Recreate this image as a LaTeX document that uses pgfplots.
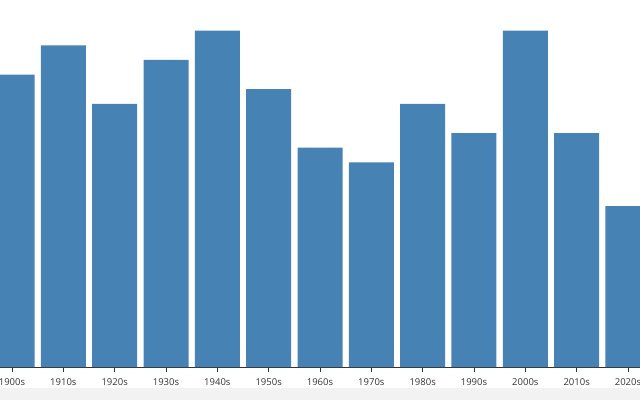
\documentclass[border=0pt]{standalone}
\usepackage{pgfplots}
\pgfplotsset{compat=1.18}
\usepackage{fontspec}
\setmainfont{Open Sans}
\definecolor{Steel}{HTML}{4682B4}
\definecolor{AxisGray}{HTML}{333333}
\definecolor{Band}{HTML}{F2F2F2}
\begin{document}
\begin{tikzpicture}[x=1pt,y=1pt]
\useasboundingbox (0,-33) rectangle (640,367);
\fill[Band] (0,-33) rectangle (640,-21);
\begin{axis}[
  scale only axis,
  width=640pt,
  height=367pt,
  at={(0,0)},
  anchor=south west,
  ybar,
  bar width=45pt,
  xmin=-0.234, xmax=12.234,
  ymin=0, ymax=25.1,
  axis y line=none,
  axis x line*=bottom,
  axis line style={draw=AxisGray, -},
  xtick=data,
  xticklabels={1900s,1910s,1920s,1930s,1940s,1950s,1960s,1970s,1980s,1990s,2000s,2010s,2020s},
  tick align=outside,
  major tick length=5pt,
  tick style={draw=AxisGray, thin},
  xticklabel style={font=\fontsize{9.5}{11}\selectfont, text=AxisGray, yshift=-3pt},
  /pgf/number format/assume math mode=true,
  clip=true,
]
\addplot[fill=Steel, draw=none] coordinates {
  (0,20) (1,22) (2,18) (3,21) (4,23) (5,19) (6,15)
  (7,14) (8,18) (9,16) (10,23) (11,16) (12,11)
};
\end{axis}
\end{tikzpicture}
\end{document}
